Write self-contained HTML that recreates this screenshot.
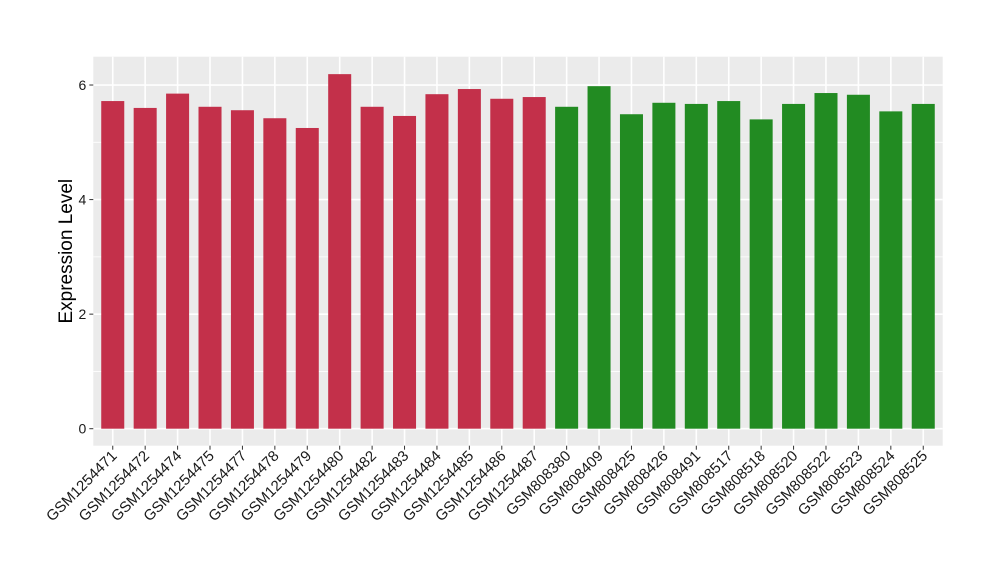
<!DOCTYPE html>
<html><head><meta charset="utf-8"><style>body{margin:0;background:#fff}svg{display:block;font-family:"Liberation Sans",Arial,sans-serif}</style></head>
<body>
<svg id="chart" width="1000" height="580" xmlns="http://www.w3.org/2000/svg"></svg>
<script>
const categories=["GSM1254471","GSM1254472","GSM1254474","GSM1254475","GSM1254477","GSM1254478","GSM1254479","GSM1254480","GSM1254482","GSM1254483","GSM1254484","GSM1254485","GSM1254486","GSM1254487","GSM808380","GSM808409","GSM808425","GSM808426","GSM808491","GSM808517","GSM808518","GSM808520","GSM808522","GSM808523","GSM808524","GSM808525"];
const values=[5.72,5.60,5.85,5.62,5.56,5.42,5.25,6.19,5.62,5.46,5.84,5.93,5.76,5.79,5.62,5.98,5.49,5.69,5.67,5.72,5.40,5.67,5.86,5.83,5.54,5.67];
const groups=["a","a","a","a","a","a","a","a","a","a","a","a","a","a","b","b","b","b","b","b","b","b","b","b","b","b"];
const yTicks=[0,2,4,6];
const yMinor=[1,3,5];
const colors={a:"#C3304A",b:"#228B22"};
const NS="http://www.w3.org/2000/svg";
const svg=document.getElementById("chart");
const L=93.3,R=942.7,T=56.7,B=445.7,Y0=428.7,PX=57.28;
const n=categories.length;
const band=(R-L)/(n+0.2);
const x=i=>L+band*(0.6+i);
const y=v=>Y0-v*PX;
function mk(tag,a){const e=document.createElementNS(NS,tag);for(const k in a)e.setAttribute(k,a[k]);svg.appendChild(e);return e;}
const bg=mk("rect",{x:L,y:T,width:R-L,height:B-T,fill:"#EBEBEB"});


yMinor.forEach(v=>{const g=mk("line",{x1:L,x2:R,y1:y(v),y2:y(v),stroke:"#fff","stroke-width":0.8});

});
yTicks.forEach(v=>{const g=mk("line",{x1:L,x2:R,y1:y(v),y2:y(v),stroke:"#fff","stroke-width":1.6});


const t=mk("line",{x1:L-4,x2:L,y1:y(v),y2:y(v),stroke:"#333","stroke-width":1});


const lb=mk("text",{x:L-7,y:y(v)+5,"text-anchor":"end","font-size":14,fill:"#1a1a1a"});lb.textContent=v;

});
categories.forEach((c,i)=>{const g=mk("line",{x1:x(i),x2:x(i),y1:T,y2:B,stroke:"#fff","stroke-width":1.6});

});
const bw=band*0.71;
categories.forEach((c,i)=>{
const r=mk("rect",{x:x(i)-bw/2,y:y(values[i]),width:bw,height:y(0)-y(values[i]),fill:colors[groups[i]]});


const t=mk("line",{x1:x(i),x2:x(i),y1:B,y2:B+4,stroke:"#333","stroke-width":1});


const lb=mk("text",{x:x(i)+5,y:B+11,"text-anchor":"end","font-size":15,fill:"#1a1a1a",transform:`rotate(-45 ${x(i)+5} ${B+11})`});lb.textContent=c;


});
const yt=mk("text",{x:72,y:(T+B)/2,"text-anchor":"middle","font-size":19,fill:"#000",transform:`rotate(-90 72 ${(T+B)/2})`});yt.textContent="Expression Level";


</script>
</body></html>
